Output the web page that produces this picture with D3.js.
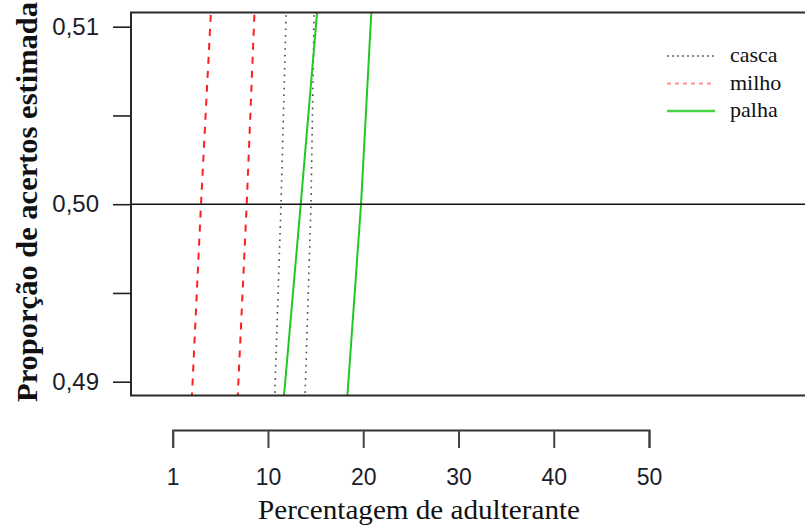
<!DOCTYPE html>
<html>
<head>
<meta charset="utf-8">
<script src="https://cdn.jsdelivr.net/npm/d3@7"></script>
<style>
  body { margin: 0; background: #fff; }
  svg { display: block; }
</style>
</head>
<body>
<div id="chart"></div>
<script>
// proportion levels where the curves were read
var yLevels = [0.489, 0.500, 0.511];

// percentage of adulterant at each level (two curves per adulterant)
var cascaA = [10.70, 11.37, 11.92];
var cascaB = [13.88, 14.52, 14.85];
var milhoA = [2.00, 2.97, 4.03];
var milhoB = [6.81, 7.77, 8.60];
var palhaA = [11.65, 13.44, 15.19];
var palhaB = [18.31, 19.77, 20.87];

var seriesNames = ["casca", "milho", "palha"];

var xTickValues = [0, 10, 20, 30, 40, 50];
var xTickLabels = ["1", "10", "20", "30", "40", "50"];
var yTickValues = [0.49, 0.495, 0.50, 0.505, 0.51];
var yTickLabels = ["0,49", "", "0,50", "", "0,51"];

var svgWidth = 805;
var svgHeight = 527;

var plot = { left: 131, top: 12.5, bottom: 395.5, right: 805 };

var svg = d3.select("#chart")
    .append("svg")
    .attr("width", svgWidth)
    .attr("height", svgHeight);

// scales
var xScale = d3.scaleLinear()
    .domain([0, 50])
    .range([172.7, 649]);

var yScale = d3.scaleLinear()
    .domain([0.49, 0.51])
    .range([381.7, 26.7]);

// line styles per adulterant
var styles = {
    casca: { color: "#4a4a4a", dash: "1.6,5", width: 1.6, legendColor: "#8c8c8c", legendDash: "2,3" },
    milho: { color: "#ff1e1e", dash: "7,7", width: 2, legendColor: "#ff8f8f", legendDash: "4,4" },
    palha: { color: "#22c822", dash: null, width: 2, legendColor: "#44d444", legendDash: null }
};

var curves = [
    { name: "casca", values: cascaA },
    { name: "casca", values: cascaB },
    { name: "milho", values: milhoA },
    { name: "milho", values: milhoB },
    { name: "palha", values: palhaA },
    { name: "palha", values: palhaB }
];

svg.append("clipPath")
    .attr("id", "plotClip")
    .append("rect")
    .attr("x", plot.left)
    .attr("y", plot.top)
    .attr("width", plot.right - plot.left)
    .attr("height", plot.bottom - plot.top);

var line = d3.line()
    .x(function(d) { return xScale(d[0]); })
    .y(function(d) { return yScale(d[1]); });

var curvesGroup = svg.append("g")
    .attr("clip-path", "url(#plotClip)");

curves.forEach(function(c) {
    var s = styles[c.name];
    var pts = c.values.map(function(v, i) { return [v, yLevels[i]]; });
    curvesGroup.append("path")
        .datum(pts)
        .attr("d", line)
        .attr("fill", "none")
        .attr("stroke", s.color)
        .attr("stroke-width", s.width)
        .attr("stroke-dasharray", s.dash);
});

// frame: left, top, bottom (no right side)
var frameColor = "#2a2a2a";
svg.append("line")
    .attr("x1", plot.left).attr("x2", plot.left)
    .attr("y1", plot.top).attr("y2", plot.bottom)
    .attr("stroke", frameColor).attr("stroke-width", 2);
svg.append("line")
    .attr("x1", plot.left - 1).attr("x2", plot.right)
    .attr("y1", plot.top).attr("y2", plot.top)
    .attr("stroke", frameColor).attr("stroke-width", 2);
svg.append("line")
    .attr("x1", plot.left - 1).attr("x2", plot.right)
    .attr("y1", plot.bottom).attr("y2", plot.bottom)
    .attr("stroke", frameColor).attr("stroke-width", 2);

// reference line at 0,50
svg.append("line")
    .attr("x1", plot.left).attr("x2", plot.right)
    .attr("y1", yScale(0.50)).attr("y2", yScale(0.50))
    .attr("stroke", "#111").attr("stroke-width", 1.6);

// y axis
var leftAxis = d3.axisLeft(yScale)
    .tickValues(yTickValues)
    .tickSize(18)
    .tickPadding(14)
    .tickFormat(function(d, i) { return yTickLabels[i]; });

var yAxis = svg.append("g")
    .attr("transform", "translate(" + plot.left + ",0)")
    .call(leftAxis);
yAxis.select(".domain").remove();
yAxis.selectAll(".tick line").attr("stroke", "#222").attr("stroke-width", 1.6);
yAxis.selectAll(".tick text")
    .attr("font-family", "Liberation Sans, Arial, sans-serif")
    .attr("font-size", "24px")
    .attr("fill", "#1c1c2a");

// x axis (detached below the plot)
var bottomAxis = d3.axisBottom(xScale)
    .tickValues(xTickValues)
    .tickSizeOuter(0)
    .tickSize(18)
    .tickPadding(21)
    .tickFormat(function(d, i) { return xTickLabels[i]; });

var xAxis = svg.append("g")
    .attr("transform", "translate(0,430)")
    .call(bottomAxis);
xAxis.select(".domain").attr("stroke", "#333").attr("stroke-width", 2);
xAxis.selectAll(".tick line").attr("stroke", "#444").attr("stroke-width", 2);
xAxis.selectAll(".tick text")
    .attr("font-family", "Liberation Sans, Arial, sans-serif")
    .attr("font-size", "23px")
    .attr("fill", "#1c1c2a");

// axis titles
svg.append("text")
    .attr("x", 419)
    .attr("y", 519)
    .attr("text-anchor", "middle")
    .attr("font-family", "Liberation Serif, Times New Roman, serif")
    .attr("font-size", "27px")
    .attr("textLength", 322)
    .attr("lengthAdjust", "spacingAndGlyphs")
    .attr("fill", "#111")
    .text("Percentagem de adulterante");

svg.append("text")
    .attr("transform", "translate(37,202) rotate(-90)")
    .attr("text-anchor", "middle")
    .attr("font-family", "Liberation Serif, Times New Roman, serif")
    .attr("font-weight", "bold")
    .attr("font-size", "29px")
    .attr("textLength", 400)
    .attr("lengthAdjust", "spacingAndGlyphs")
    .attr("fill", "#111")
    .text("Proporção de acertos estimada");

// legend
var legend = svg.append("g");
seriesNames.forEach(function(name, i) {
    var s = styles[name];
    var y = 56 + i * 27.5;
    legend.append("line")
        .attr("x1", 667).attr("x2", 715)
        .attr("y1", y).attr("y2", y)
        .attr("stroke", s.legendColor)
        .attr("stroke-width", name === "palha" ? 2.4 : 2)
        .attr("stroke-dasharray", s.legendDash);
    legend.append("text")
        .attr("x", 730)
        .attr("y", y + 6)
        .attr("font-family", "Liberation Serif, Times New Roman, serif")
        .attr("font-size", "22px")
        .attr("fill", "#111")
        .text(name);
});
</script>
</body>
</html>
